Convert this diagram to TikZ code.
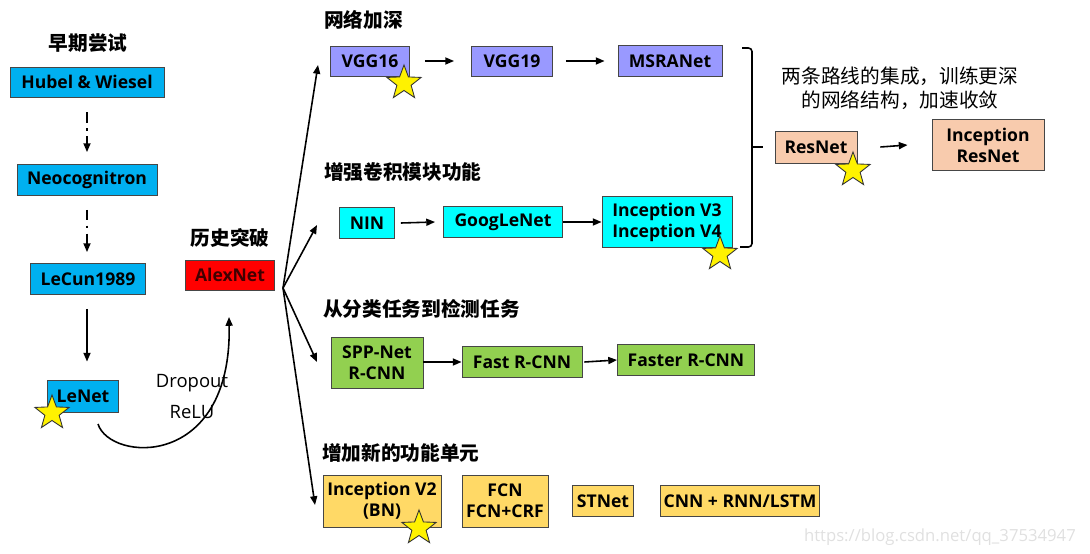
\documentclass[tikz,border=0pt]{standalone}
\usepackage{fontspec}
\setmainfont{Open Sans}
\newfontfamily\cjk{Noto Sans CJK SC}
\usetikzlibrary{arrows.meta,shapes.geometric}
\definecolor{earlyblue}{RGB}{0, 176, 240}
\definecolor{alexred}{RGB}{255, 0, 0}
\definecolor{deeppurple}{RGB}{153, 153, 255}
\definecolor{modcyan}{RGB}{0, 255, 255}
\definecolor{detgreen}{RGB}{146, 208, 80}
\definecolor{respeach}{RGB}{248, 203, 173}
\definecolor{unitgold}{RGB}{255, 217, 102}
\definecolor{boxline}{RGB}{70, 70, 70}

\begin{document}
\begin{tikzpicture}[x=0.02cm, y=-0.02cm,
    box/.style={draw=boxline, line width=0.5pt, inner sep=2pt, align=center,
      font=\fontsize{10}{12}\selectfont\bfseries},
    title/.style={font=\cjk\bfseries\fontsize{11.2}{13}\selectfont},
    goldstar/.style={star, star points=5, star point ratio=2.4, minimum size=0.72cm,
      inner sep=0pt, draw=black!80, line width=0.5pt, fill=yellow},
    ar/.style={-{Triangle[length=5pt, width=4pt]}, line width=0.9pt}]

\useasboundingbox (0,0) rectangle (1090,554);

%% ── early attempts ───────────────────────────────────────────────
\node[title] (early) at (88,43) {早期尝试};
\node[box, fill=earlyblue, minimum width=3.08cm, minimum height=0.6cm] (hubel) at (87,82) {Hubel \& Wiesel};
\node[box, fill=earlyblue, minimum width=2.8cm, minimum height=0.62cm] (neo) at (87,180) {Neocognitron};
\node[box, fill=earlyblue, minimum width=2.3cm, minimum height=0.62cm] (lecun) at (88,279) {LeCun1989};
\node[box, fill=earlyblue, minimum width=1.42cm, minimum height=0.64cm] (lenet) at (83,396) {LeNet};

\draw[ar, dash pattern=on 6pt off 3pt on 1.5pt off 3pt] ([yshift=-0.3cm]hubel.south) -- ([yshift=0.24cm]neo.north);
\draw[ar, dash pattern=on 6pt off 3pt on 1.5pt off 3pt] ([yshift=-0.28cm]neo.south) -- ([yshift=0.22cm]neo.south |- lecun.north);
\draw[ar] ([yshift=-0.28cm]neo.south |- lecun.south) -- ([yshift=0.36cm]neo.south |- lenet.north);

%% ── breakthrough ─────────────────────────────────────────────────
\node[title] (hist) at (230,238) {历史突破};
\node[box, fill=alexred, text=red!25!black, minimum width=1.78cm, minimum height=0.6cm] (alex) at (230,275) {AlexNet};

\coordinate (lenetout) at (98,424);
\coordinate (alexin) at (229,317);
\draw[ar] (lenetout) .. controls (110,462) and (232,470) .. (alexin);
\node[font=\fontsize{10.5}{12}\selectfont] (drop) at (192,383) {Dropout};
\node[font=\fontsize{10.5}{12}\selectfont] (relu) at (192,412) {ReLU};

%% ── fan of arrows out of AlexNet ─────────────────────────────────
\coordinate (fan) at (283,288);
\coordinate (t1) at (318,65);
\coordinate (t2) at (317,225);
\coordinate (t3) at (317,362);
\coordinate (t4) at (315,505);
\foreach \t in {t1,t2,t3,t4}
  \draw[ar] (fan) -- (\t);

%% ── deeper networks ──────────────────────────────────────────────
\node[title, anchor=west] (deep) at (318,20) {网络加深};
\node[box, fill=deeppurple, minimum width=1.58cm, minimum height=0.6cm] (vgg16) at (370,61) {VGG16};
\node[box, fill=deeppurple, minimum width=1.62cm, minimum height=0.6cm] (vgg19) at (512,61) {VGG19};
\node[box, fill=deeppurple, minimum width=2.08cm, minimum height=0.62cm] (msra) at (670,61) {MSRANet};
\draw[ar] ([xshift=0.3cm]vgg16.east) -- ([xshift=-0.34cm]vgg19.west);
\draw[ar] ([xshift=0.26cm]vgg19.east) -- ([xshift=-0.26cm]msra.west);

%% ── stronger conv modules ────────────────────────────────────────
\node[title, anchor=west] (conv) at (318,172) {增强卷积模块功能};
\node[box, fill=modcyan, minimum width=1.1cm, minimum height=0.62cm] (nin) at (367,223) {NIN};
\node[box, fill=modcyan, minimum width=2.38cm, minimum height=0.62cm] (goog) at (503,222) {GoogLeNet};
\node[box, fill=modcyan, minimum width=2.6cm, minimum height=1.02cm] (incv34) at (667,222) {Inception V3\\Inception V4};
\draw[ar] ([xshift=0.12cm]nin.east) -- ([xshift=-0.16cm]goog.west);
\draw[ar] (goog.east) -- (incv34.west);

%% ── brace + residual ─────────────────────────────────────────────
\coordinate (bt) at (752,48);
\coordinate (bb) at (752,247);
\coordinate (bm) at (752,147);
\draw[line width=0.9pt, rounded corners=2pt] ([xshift=-0.2cm]bt) -- (bt) -- (bb) -- ([xshift=-0.24cm]bb);
\draw[line width=0.9pt] (bm) -- ++(11,0);

\node[font=\cjk\fontsize{11.2}{13.5}\selectfont, align=center] (merge) at (900,88)
  {两条路线的集成，训练更深\\的网络结构，加速收敛};
\node[box, fill=respeach, minimum width=1.64cm, minimum height=0.64cm] (res) at (816,147) {ResNet};
\node[box, fill=respeach, minimum width=2.24cm, minimum height=1.02cm] (incres) at (988,145) {Inception\\ResNet};
\draw[ar] ([xshift=0.46cm]res.east) -- ([xshift=-0.48cm]incres.west);

%% ── classification to detection ──────────────────────────────────
\node[title, anchor=west] (detect) at (317,309) {从分类任务到检测任务};
\node[box, fill=detgreen, minimum width=1.84cm, minimum height=1.02cm] (spp) at (377,363) {SPP-Net\\R-CNN};
\node[box, fill=detgreen, minimum width=2.4cm, minimum height=0.62cm] (fast) at (522,362) {Fast R-CNN};
\node[box, fill=detgreen, minimum width=2.74cm, minimum height=0.62cm] (faster) at (686,360) {Faster R-CNN};
\draw[ar] (spp.east |- fast.west) -- (fast.west);
\draw[ar] ([xshift=0.04cm]fast.east) -- (faster.west);

%% ── new function units ───────────────────────────────────────────
\node[title, anchor=west] (units) at (316,453) {增加新的功能单元};
\node[box, fill=unitgold, minimum width=2.36cm, minimum height=1.04cm] (incv2) at (382,501) {Inception V2\\(BN)};
\node[box, fill=unitgold, minimum width=1.72cm, minimum height=1.04cm] (fcn) at (505,501) {FCN\\FCN+CRF};
\node[box, fill=unitgold, minimum width=1.22cm, minimum height=0.62cm] (stnet) at (603,501) {STNet};
\node[box, fill=unitgold, minimum width=3.06cm, minimum height=0.62cm] (cnnrnn) at (740,501) {CNN + RNN/LSTM};

%% ── stars ────────────────────────────────────────────────────────
\node[goldstar] (s1) at (52,413) {};
\node[goldstar] (s2) at (404,83) {};
\node[goldstar] (s3) at (720,254) {};
\node[goldstar] (s4) at (853,170) {};
\node[goldstar] (s5) at (419,528) {};

\node[text=black!12, font=\fontsize{9.5}{11}\selectfont, anchor=east] (mark) at (1082,537) {https://blog.csdn.net/qq\_37534947};

\end{tikzpicture}
\end{document}
